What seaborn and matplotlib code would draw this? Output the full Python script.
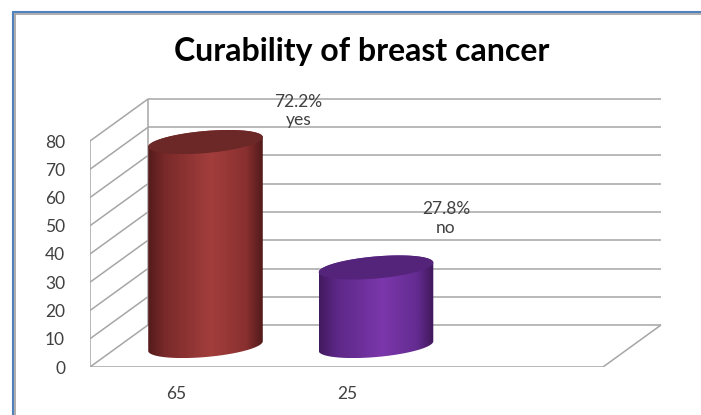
import numpy as np
import pandas as pd
import matplotlib
matplotlib.use("Agg")
import matplotlib.pyplot as plt
from matplotlib.patches import Polygon
from matplotlib.colors import LinearSegmentedColormap
from matplotlib.lines import Line2D
import seaborn as sns

# ---------------- data ----------------
categories = ["65", "25"]
values = [72.2, 27.8]
label_pct = ["72.2%", "27.8%"]
label_names = ["yes", "no"]
yticks = [0, 10, 20, 30, 40, 50, 60, 70, 80]
title = "Curability of breast cancer"

# ---------------- layout / style ----------------
W, H = 701, 415
DPI = 100
PX_CAT = 170.5      # pixels per category step
PX_UNIT = 2.825     # pixels per value unit
C0_PX = 205.5       # pixel x of first category centre
BASE_PX = 346       # pixel y of value 0 at the cylinders' depth
HALF_DX = 29 / PX_CAT     # half depth, x (category units)
HALF_DY = 21 / PX_UNIT    # half depth, y (value units)
BAR_W = 115 / PX_CAT
ELL_B = 11.0        # cap ellipse half-height, px
ELL_TILT = np.deg2rad(5.0)
FLOOR_RIGHT = (603 - C0_PX) / PX_CAT   # front floor right end
WALL_LEFT = (90 - C0_PX) / PX_CAT      # front left edge
GRID_C = "#a6a6a6"
TEXT_C = "#404040"
body_cols = [
    ["#551b1b", "#7a2a2a", "#a23e3c", "#8a3030", "#521a1a"],
    ["#43195f", "#5c2786", "#7b37ab", "#642c92", "#40175a"],
]
cap_cols = ["#6c2727", "#54237a"]
label_off = [(0.545, 11.0), (0.41, 17.3)]  # text offsets from bar top

sns.set_theme(style="white")
plt.rcParams["font.family"] = ["Lato", "DejaVu Sans"]

fig = plt.figure(figsize=(W / DPI, H / DPI), dpi=DPI)
ax_left_px, ax_right_px, ax_top_px, ax_bot_px = 90, 700, 60, 367
ax = fig.add_axes([ax_left_px / W, 1 - ax_bot_px / H,
                   (ax_right_px - ax_left_px) / W, (ax_bot_px - ax_top_px) / H])
xlim = ((ax_left_px - C0_PX) / PX_CAT, (ax_right_px - C0_PX) / PX_CAT)
ylim = ((BASE_PX - ax_bot_px) / PX_UNIT, (BASE_PX - ax_top_px) / PX_UNIT)

df = pd.DataFrame({"cat": categories, "val": values})
sns.barplot(data=df, x="cat", y="val", hue="cat", order=categories,
            palette=[c[2] for c in body_cols], width=BAR_W, legend=False,
            ax=ax, zorder=3, linewidth=0)

# ---- walls / gridlines ----
lk = dict(color=GRID_C, lw=1.1, zorder=1, solid_capstyle="butt")
back_l, back_r = WALL_LEFT + 2 * HALF_DX, FLOOR_RIGHT + 2 * HALF_DX
for v in yticks:
    ax.plot([back_l, back_r], [v + HALF_DY, v + HALF_DY], **lk)
    ax.plot([WALL_LEFT, back_l], [v - HALF_DY, v + HALF_DY], **lk)
ax.plot([WALL_LEFT, WALL_LEFT], [yticks[0] - HALF_DY, yticks[-1] - HALF_DY], **lk)
ax.plot([back_l, back_l], [yticks[0] + HALF_DY, yticks[-1] + HALF_DY], **lk)
ax.plot([WALL_LEFT, FLOOR_RIGHT], [-HALF_DY, -HALF_DY], **lk)
ax.plot([FLOOR_RIGHT, back_r], [-HALF_DY, HALF_DY], **lk)


def ell(cx, cy, a_px, t):
    px = a_px * np.cos(t) * np.cos(ELL_TILT) - ELL_B * np.sin(t) * np.sin(ELL_TILT)
    py = a_px * np.cos(t) * np.sin(ELL_TILT) + ELL_B * np.sin(t) * np.cos(ELL_TILT)
    return cx + px / PX_CAT, cy + py / PX_UNIT


bars = [p for p in ax.patches]
for i, p in enumerate(bars):
    x0, w, h = p.get_x(), p.get_width(), p.get_height()
    cx = x0 + w / 2
    a_px = w / 2 * PX_CAT
    # body outline: lower arc of base, upper arc of top
    t1 = np.linspace(np.pi, 2 * np.pi, 80)
    bx, by = ell(cx, 0, a_px, t1)
    t2 = np.linspace(0, np.pi, 80)
    tx, ty = ell(cx, h, a_px, t2)
    pts = np.column_stack([np.r_[bx, tx], np.r_[by, ty]])
    body = Polygon(pts, closed=True, facecolor="none", edgecolor="none",
                   transform=ax.transData)
    ax.add_patch(body)
    cmap = LinearSegmentedColormap.from_list(
        f"c{i}", list(zip([0, 0.15, 0.55, 0.85, 1.0], body_cols[i])))
    im = ax.imshow(np.linspace(0, 1, 256)[None, :], cmap=cmap, aspect="auto",
                   extent=(pts[:, 0].min(), pts[:, 0].max(), pts[:, 1].min(), pts[:, 1].max()),
                   zorder=4, interpolation="bilinear")
    im.set_clip_path(body)
    p.set_visible(False)
    tt = np.linspace(0, 2 * np.pi, 160)
    ex, ey = ell(cx, h, a_px, tt)
    ax.add_patch(Polygon(np.column_stack([ex, ey]), closed=True,
                         facecolor=cap_cols[i], edgecolor="none", zorder=5))
    dx, dy = label_off[i]
    ax.text(cx + dx, h + dy, f"{label_pct[i]}\n{label_names[i]}", ha="center",
            va="center", fontsize=12.5, color=TEXT_C, linespacing=1.2, zorder=6)

ax.set_xlim(*xlim)
ax.set_ylim(*ylim)
ax.set_xticks([k - HALF_DX for k in range(len(categories))], categories)
ax.set_yticks([v - HALF_DY for v in yticks], [str(v) for v in yticks])
ax.tick_params(axis="both", length=0, labelsize=12.5, labelcolor=TEXT_C)
ax.tick_params(axis="x", pad=14)
ax.tick_params(axis="y", pad=18)
ax.set_xlabel("")
ax.set_ylabel("")
for s in ax.spines.values():
    s.set_visible(False)
ax.patch.set_alpha(0)

fig.text(361.5 / W, 1 - 52 / H, title, ha="center", va="center",
         fontsize=23, fontweight="bold", color="black")

# chart frame (blue outer line + grey inner line)
fig.add_artist(Line2D([12.5 / W, 12.5 / W], [0, 1 - 12.5 / H], color="#4f81bd", lw=1.5,
                      transform=fig.transFigure))
fig.add_artist(Line2D([12.5 / W, 1], [1 - 12.5 / H, 1 - 12.5 / H], color="#4f81bd", lw=1.5,
                      transform=fig.transFigure))
fig.add_artist(Line2D([14.5 / W, 14.5 / W], [0, 1 - 14.5 / H], color="#a0a0a0", lw=1.2,
                      transform=fig.transFigure))
fig.add_artist(Line2D([14.5 / W, 1], [1 - 14.5 / H, 1 - 14.5 / H], color="#a0a0a0", lw=1.2,
                      transform=fig.transFigure))

fig.savefig("out.png", dpi=DPI)
